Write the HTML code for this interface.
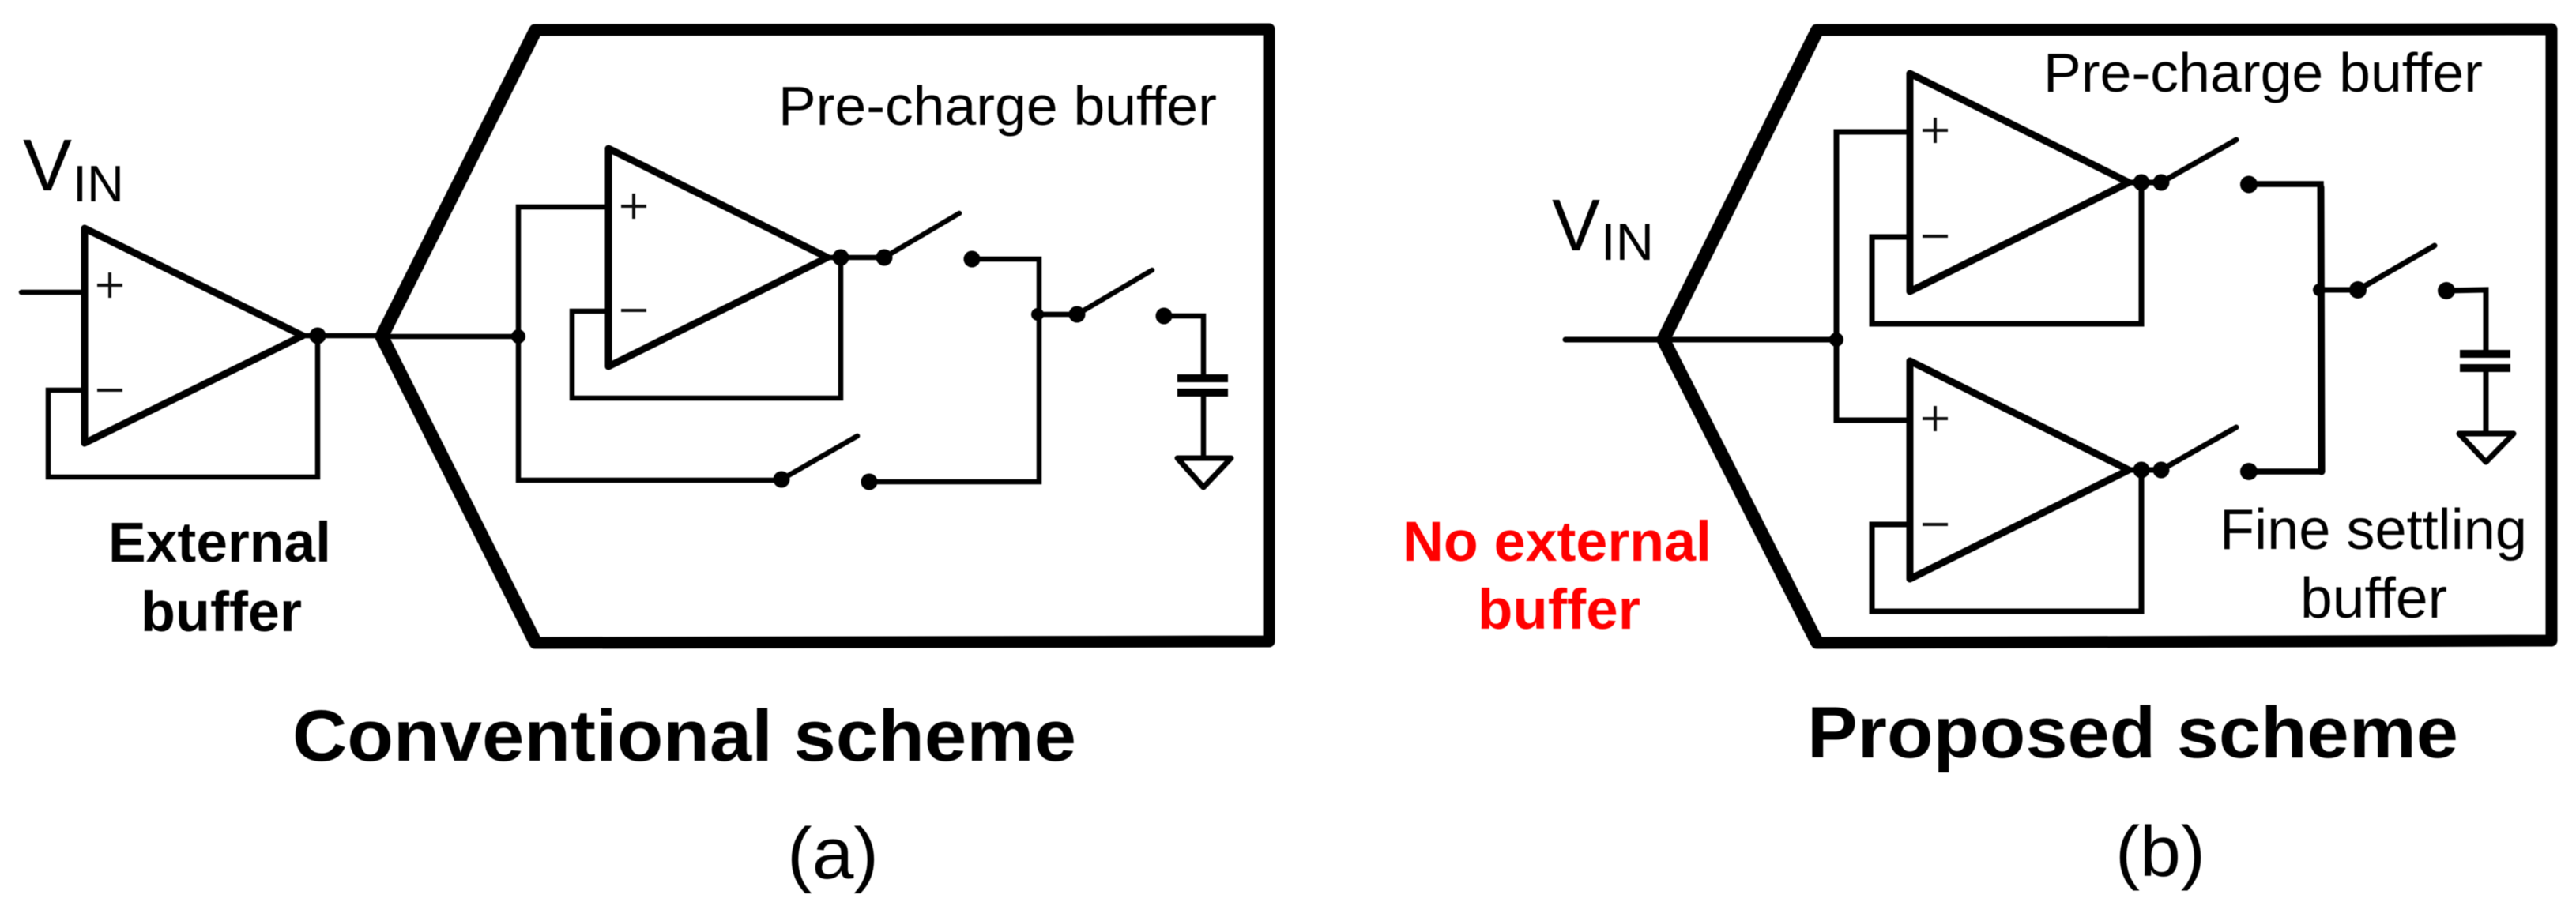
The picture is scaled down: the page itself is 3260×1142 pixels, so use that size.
<!DOCTYPE html>
<html>
<head>
<meta charset="utf-8">
<style>
html,body{margin:0;padding:0;background:#fff;}
svg{display:block;filter:blur(0.6px);}
text{font-family:"Liberation Sans",Arial,sans-serif;fill:#000;}
.b{font-weight:bold;}
.w{fill:none;stroke:#000;stroke-width:6.5;stroke-linejoin:miter;stroke-linecap:round;}
.o{fill:none;stroke:#000;stroke-width:9;stroke-linejoin:round;}
.box{fill:none;stroke:#000;stroke-width:15;stroke-linejoin:round;}
.sl{fill:none;stroke:#000;stroke-width:17;stroke-linejoin:round;stroke-linecap:round;}
.s{fill:none;stroke:#111;stroke-width:4;}
.p{fill:none;stroke:#000;stroke-width:10;}
.g{fill:none;stroke:#000;stroke-width:7;stroke-linejoin:round;}
</style>
</head>
<body>
<svg width="3260" height="1142" viewBox="0 0 3260 1142" xmlns="http://www.w3.org/2000/svg">
<rect width="3260" height="1142" fill="#fff"/>

<!-- LEFT PANEL -->
<polygon class="box" points="483,426 677,38 1606,37 1606,812 677,814"/>
<polyline class="sl" points="677,40 483,426 677,812"/>
<!-- external buffer -->
<polyline class="w" points="27,370 107,370"/>
<polyline class="w" points="107,494 61,494 61,604 402,604 402,425"/>
<polyline class="w" points="383,425 483,425"/>
<polygon class="o" points="107,289 383,425 107,561"/>
<path class="s" d="M123,361H155M139,345V377M123,494H155"/>
<circle cx="402" cy="425" r="10.5"/>
<!-- precharge -->
<polyline class="w" points="483,426 656,426"/>
<polyline class="w" points="770,262 656,262 656,608 988,608"/>
<circle cx="656" cy="426" r="9"/>
<polyline class="w" points="770,394 724,394 724,504 1064,504 1064,326"/>
<polygon class="o" points="770,188 1047,326 770,464"/>
<path class="s" d="M786,261H818M802,245V277M786,393H818"/>
<polyline class="w" points="1047,326 1119,326 1214,270"/>
<circle cx="1064" cy="326" r="10.5"/>
<circle cx="1119" cy="326" r="10.5"/>
<polyline class="w" points="1230,328 1315,328 1315,610 1100,610"/>
<circle cx="1230" cy="328" r="10.5"/>
<circle cx="1100" cy="610" r="10.5"/>
<polyline class="w" points="989,607 1085,552"/>
<circle cx="989" cy="607" r="10.5"/>
<polyline class="w" points="1313,398 1363,398 1458,342"/>
<circle cx="1313" cy="398" r="8"/>
<circle cx="1363" cy="398" r="10.5"/>
<polyline class="w" points="1473,400 1523,400 1523,479"/>
<circle cx="1473" cy="400" r="10.5"/>
<path class="p" d="M1490,479H1554M1490,497H1554"/>
<polyline class="w" points="1523,497 1523,580"/>
<polygon class="g" points="1490,580 1558,580 1523,617"/>

<text x="985" y="158" font-size="70" textLength="555" lengthAdjust="spacingAndGlyphs">Pre-charge buffer</text>
<text x="29" y="241" font-size="93" textLength="62" lengthAdjust="spacingAndGlyphs">V</text>
<text x="92" y="255" font-size="65" textLength="65" lengthAdjust="spacingAndGlyphs">IN</text>
<text class="b" x="137" y="711" font-size="71" textLength="282" lengthAdjust="spacingAndGlyphs">External</text>
<text class="b" x="178" y="799" font-size="71" textLength="204" lengthAdjust="spacingAndGlyphs">buffer</text>
<text class="b" x="370" y="963" font-size="92" textLength="992" lengthAdjust="spacingAndGlyphs">Conventional scheme</text>
<text x="996" y="1112" font-size="92" textLength="116" lengthAdjust="spacingAndGlyphs">(a)</text>

<!-- RIGHT PANEL -->
<polygon class="box" points="2105,430 2299,38 3229,37 3229,811 2299,814"/>
<polyline class="sl" points="2299,40 2105,430 2299,812"/>
<polyline class="w" style="stroke-width:7" points="1981,430 2324,430"/>
<polyline class="w" style="stroke-width:7" points="2417,167 2324,167 2324,532 2417,532"/>
<circle cx="2324" cy="430" r="9"/>
<polyline class="w" style="stroke-width:7" points="2417,300 2369,300 2369,410 2710,410 2710,231"/>
<polyline class="w" style="stroke-width:7" points="2417,664 2369,664 2369,774 2710,774 2710,595"/>
<polygon class="o" points="2417,93 2694,231 2417,369"/>
<polygon class="o" points="2417,457 2694,595 2417,733"/>
<path class="s" d="M2433,165H2465M2449,149V181M2433,299H2465"/>
<path class="s" d="M2433,530H2465M2449,514V546M2433,664H2465"/>
<polyline class="w" style="stroke-width:7" points="2694,231 2735,231 2830,177"/>
<polyline class="w" style="stroke-width:7" points="2694,595 2735,595 2830,541"/>
<circle cx="2710" cy="231" r="10.5"/>
<circle cx="2735" cy="231" r="10.5"/>
<circle cx="2710" cy="595" r="10.5"/>
<circle cx="2735" cy="595" r="10.5"/>
<polyline class="w" style="stroke-width:7.5" points="2846,233 2937,233 2937,367"/>
<polyline class="w" style="stroke-width:9" points="2937,237 2938,597"/>
<polyline class="w" style="stroke-width:7.5" points="2938,597 2846,597"/>
<circle cx="2846" cy="233.5" r="11"/>
<circle cx="2846" cy="597" r="11"/>
<polyline class="w" style="stroke-width:7" points="2935,367 2984,367 3081,311"/>
<circle cx="2935" cy="367" r="8"/>
<circle cx="2984" cy="367" r="11"/>
<polyline class="w" style="stroke-width:7" points="3096,368 3146,367 3146,448"/>
<circle cx="3096" cy="368" r="11"/>
<path class="p" d="M3113,448H3177M3113,466H3177"/>
<polyline class="w" style="stroke-width:7" points="3146,466 3146,549"/>
<polygon class="g" points="3112,549 3181,549 3146,585"/>

<text x="2586" y="116" font-size="70" textLength="556" lengthAdjust="spacingAndGlyphs">Pre-charge buffer</text>
<text x="2809" y="695" font-size="72" textLength="389" lengthAdjust="spacingAndGlyphs">Fine settling</text>
<text x="2911" y="782" font-size="72" textLength="186" lengthAdjust="spacingAndGlyphs">buffer</text>
<text x="1964" y="317" font-size="93" textLength="61" lengthAdjust="spacingAndGlyphs">V</text>
<text x="2026" y="329" font-size="66" textLength="67" lengthAdjust="spacingAndGlyphs">IN</text>
<text class="b" style="fill:#f00" x="1775" y="710" font-size="71" textLength="391" lengthAdjust="spacingAndGlyphs">No external</text>
<text class="b" style="fill:#f00" x="1870" y="796" font-size="71" textLength="206" lengthAdjust="spacingAndGlyphs">buffer</text>
<text class="b" x="2287" y="959" font-size="92" textLength="824" lengthAdjust="spacingAndGlyphs">Proposed scheme</text>
<text x="2677" y="1109" font-size="90" textLength="114" lengthAdjust="spacingAndGlyphs">(b)</text>
</svg>
</body>
</html>
